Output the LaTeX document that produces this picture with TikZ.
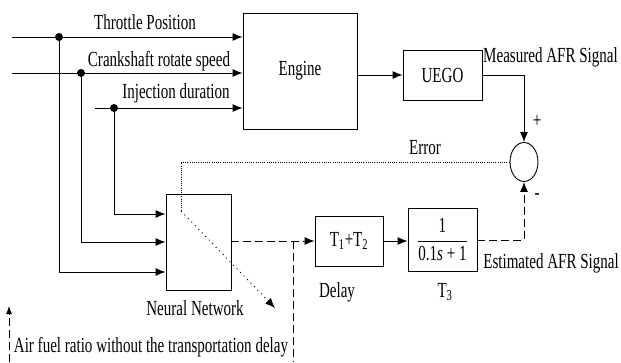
\documentclass[tikz,border=0pt]{standalone}
\usepackage{fontspec}
\setmainfont{Liberation Serif}[FakeStretch=0.7]
\usepackage{amsmath}
\usetikzlibrary{arrows.meta,shapes.geometric}
\begin{document}
\begin{tikzpicture}[x=1pt,y=-1pt,
  font=\fontsize{21.5}{23}\selectfont,
  box/.style={draw, line width=0.9pt, inner sep=0pt, rectangle},
  ln/.style={line width=0.9pt},
  arr/.style={-{Latex[length=10pt,width=8pt]}},
  dsh/.style={line width=0.9pt, dash pattern=on 8pt off 4pt},
  dtt/.style={line width=0.8pt, dash pattern=on 1pt off 1.2pt},
  ldt/.style={line width=0.9pt, dash pattern=on 1pt off 4pt},
  lbl/.style={inner sep=0pt, anchor=center},
  dotnode/.style={circle, fill, inner sep=0pt, minimum size=8pt}]
\useasboundingbox (0,0) rectangle (621,362);

% blocks
\node[box, minimum width=114pt, minimum height=116pt] (engine) at (300,71) {Engine};
\node[box, minimum width=79pt, minimum height=50pt] (uego) at (442.5,75) {UEGO};
\node[box, minimum width=65pt, minimum height=96pt] (nn) at (198.5,242) {};
\node[box, minimum width=68pt, minimum height=50pt] (delay) at (349,241) {T\textsubscript{1}+T\textsubscript{2}};
\node[box, minimum width=69pt, minimum height=63pt] (t3) at (442.5,239.5) {$\dfrac{\text{1}}{\text{0.1\textit{s} + 1}}$};
\node[draw, line width=0.9pt, ellipse, inner sep=0pt, minimum width=28pt, minimum height=39pt] (sum) at (524,162) {};

% input lines
\coordinate (tin) at (12,37);
\coordinate (cin) at (12,73);
\coordinate (iin) at (95,108);
\node[dotnode] (d1) at (59,37) {};
\node[dotnode] (d2) at (81,73) {};
\node[dotnode] (d3) at (114,108) {};
\draw[ln,arr] (tin) -- (tin -| engine.west);
\draw[ln,arr] (cin) -- (cin -| engine.west);
\draw[ln,arr] (iin) -- (iin -| engine.west);
\draw[ln,arr] (d1.center) |- (nn.west |- 0,272);
\draw[ln,arr] (d2.center) |- (nn.west |- 0,242);
\draw[ln,arr] (d3.center) |- (nn.west |- 0,214);

% engine path
\draw[ln,arr] (engine.east |- uego.west) -- (uego.west);
\draw[ln,arr] (uego.east) -| (sum.north);

% model path
\draw[dsh,arr] (nn.east |- delay.west) -- (delay.west);
\draw[ln,arr] (delay.east) -- (delay.east -| t3.west);
\draw[dsh,arr] (t3.east |- 0,240) -| (sum.south);

% error feedback
\coordinate (e1) at (181,162);
\coordinate (e2) at (181,211);
\coordinate (e3) at (275,308);
\draw[dtt] (sum.west) -- (e1) -- (e2);
\draw[ldt,arr] (e2) -- (e3);

% bracket for label
\coordinate (vt) at (293,241);
\coordinate (vb) at (293,362);
\draw[dsh] (vt) -- (vb);
\coordinate (la0) at (9,362);
\coordinate (la1) at (9,306);
\draw[dsh,-{Latex[length=8pt,width=6pt]}] (la0) -- (la1);

% labels
\node[lbl] (lt) at (145,22) {Throttle Position};
\node[lbl] (lc) at (159,61) {Crankshaft rotate speed};
\node[lbl] (li) at (176,93) {Injection duration};
\node[lbl, anchor=east] (lm) at (618,57) {Measured AFR Signal};
\node[lbl] (lp) at (537,121) {+};
\node[lbl] (lerr) at (425,148) {Error};
\node[lbl] (lmi) at (537,197) {-};
\node[lbl] (lnn) at (195,308) {Neural Network};
\node[lbl] (ld) at (337,292) {Delay};
\node[lbl] (lt3) at (445,292) {T\textsubscript{3}};
\node[lbl, anchor=east] (le) at (619,263) {Estimated AFR Signal};
\node[lbl] (la) at (151,347) {Air fuel ratio without the transportation delay};
\end{tikzpicture}
\end{document}
